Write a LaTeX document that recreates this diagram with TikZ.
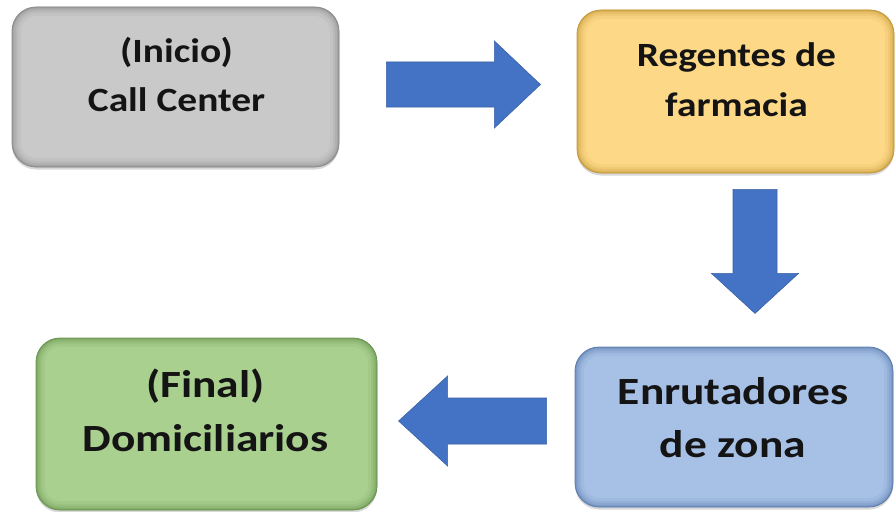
\documentclass[tikz,border=0pt]{standalone}
\usepackage{fontspec}
\newfontfamily\boxfont{Carlito}[FakeStretch=1.16]
\newfontfamily\boxfontwide{Carlito}[FakeStretch=1.18]
\usetikzlibrary{calc,shadows}
\definecolor{grayedge}{HTML}{8C8C8C}
\definecolor{grayfill}{HTML}{C9C9C9}
\definecolor{orangeedge}{HTML}{C49A3A}
\definecolor{orangefill}{HTML}{FDD886}
\definecolor{blueedge}{HTML}{5F80B0}
\definecolor{bluefill}{HTML}{A7C0E5}
\definecolor{greenedge}{HTML}{6B9550}
\definecolor{greenfill}{HTML}{A9D08E}
\definecolor{arrowfill}{HTML}{4472C4}
\definecolor{arrowedge}{HTML}{3A62A8}
\definecolor{txtcol}{HTML}{141414}
\tikzset{
  box/.style n args={4}{draw=#1, fill=#2, line width=0.8pt, rounded corners=24pt,
    inner sep=0pt, minimum width=#3, minimum height=#4,
    drop shadow={shadow xshift=0pt, shadow yshift=-2.5pt, opacity=0.25, fill=black!60},
    path picture={
      \foreach \w/\o in {18/0.10, 12/0.14, 8/0.2, 4/0.28, 2/0.4}
        \draw[#1, line width=\w pt, opacity=\o, rounded corners=24pt]
          (path picture bounding box.south west) rectangle (path picture bounding box.north east);
    }},
  toptxt/.style={font=\boxfont\bfseries\fontsize{34}{40}\selectfont, text=txtcol, inner sep=0pt, anchor=base},
  bottxt/.style={font=\boxfontwide\bfseries\fontsize{38.5}{45}\selectfont, text=txtcol, inner sep=0pt, anchor=base},
  blockarrow/.style={fill=arrowfill, draw=arrowedge, line width=0.6pt, line join=miter}
}
\begin{document}
\begin{tikzpicture}[x=1pt,y=-1pt]
\useasboundingbox[fill=white] (0,0) rectangle (896,511);
% boxes
\node[box={grayedge}{grayfill}{327pt}{160pt}] (g) at (175.5,87) {};
\node[box={orangeedge}{orangefill}{317pt}{163pt}] (o) at (735.5,91.5) {};
\node[box={blueedge}{bluefill}{318pt}{160pt}] (b) at (734,427) {};
\node[box={greenedge}{greenfill}{341pt}{172pt}] (v) at (206.5,424) {};
% texts
\node[toptxt] (g1) at ($(g.north)+(1,56)$) {(Inicio)};
\node[toptxt] (g2) at ($(g.north)+(1,105)$) {Call Center};
\node[toptxt] (o1) at ($(o.north)+(1,57)$) {Regentes de};
\node[toptxt] (o2) at ($(o.north)+(1,107)$) {farmacia};
\node[bottxt] (b1) at ($(b.north)+(-1,58)$) {Enrutadores};
\node[bottxt] (b2) at ($(b.north)+(-1,111)$) {de zona};
\node[bottxt] (v1) at ($(v.north)+(-1,60)$) {(Final)};
\node[bottxt] (v2) at ($(v.north)+(-1,114)$) {Domiciliarios};
% block arrows between boxes
\coordinate (r0) at ($(g.east)+(47,-3)$);
\fill[blockarrow] (r0) ++(0,-22) -- ++(108,0) -- ++(0,-21) -- ++(46,43.5) -- ++(-46,43.5) -- ++(0,-21) -- ++(-108,0) -- cycle;
\coordinate (d0) at ($(o.south)+(19.5,16)$);
\fill[blockarrow] (d0) ++(-22,0) -- ++(0,84) -- ++(-21.5,0) -- ++(43.5,40) -- ++(43.5,-40) -- ++(-21.5,0) -- ++(0,-84) -- cycle;
\coordinate (l0) at ($(b.west)+(-28,-6.5)$);
\fill[blockarrow] (l0) ++(0,-22.5) -- ++(-99,0) -- ++(0,-22) -- ++(-49,45) -- ++(49,45) -- ++(0,-22) -- ++(99,0) -- cycle;
\end{tikzpicture}
\end{document}
